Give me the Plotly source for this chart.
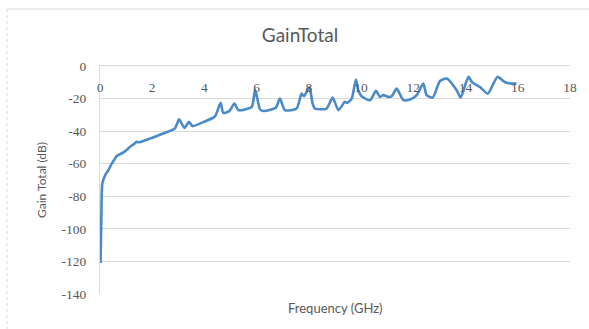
import plotly.graph_objects as go

# Total gain versus frequency
freq_ghz = [0.02, 0.05, 0.09, 0.2, 0.32, 0.45, 0.57, 0.64, 0.9, 1.2, 1.34, 1.4, 1.5,
            2.0, 2.5, 2.87, 3.03, 3.23, 3.41, 3.54, 4.02, 4.4, 4.62, 4.72, 4.95, 5.15,
            5.3, 5.81, 5.94, 6.13, 6.26, 6.5, 6.74, 6.89, 7.08, 7.53, 7.72, 7.81, 8.02,
            8.14, 8.23, 8.68, 8.91, 9.13, 9.38, 9.47, 9.64, 9.8, 9.89, 10.02, 10.34,
            10.57, 10.72, 10.85, 10.98, 11.04, 11.17, 11.36, 11.62, 11.87, 12.13, 12.38,
            12.51, 12.74, 13.02, 13.28, 13.66, 13.81, 14.11, 14.25, 14.55, 14.85, 15.22,
            15.5, 15.75, 15.95]
gain_db = [-121, -95, -72, -67, -64, -60, -57, -55.3, -53, -49, -47.5, -46.5, -46.8,
           -44, -41, -38.3, -32.8, -38, -34.3, -36.9, -34, -31, -22.6, -28.8, -27.7, -23,
           -27.1, -25.1, -14.5, -26.7, -27.6, -27, -25.5, -20, -27.1, -26.1, -16.9, -18.6, -13,
           -23, -26.1, -26.1, -19.4, -27.1, -22, -22.6, -20, -8.3, -14.9, -18.6, -21,
           -15.3, -19, -17.9, -18.6, -19, -18.6, -13.9, -21, -20.6, -17.9, -10.8,
           -17.9, -19.4, -9.2, -7.7, -14.9, -19.4, -6.7, -10, -12.9, -17, -6.7,
           -9.8, -10.8, -10.8]

x_ticks = [0, 2, 4, 6, 8, 10, 12, 14, 16, 18]
y_ticks = [0, -20, -40, -60, -80, -100, -120, -140]
y_tick_labels = ["0", "-20", "-40", "-60", "-80", "-100", "-120", "-140"]

TEXT = "#595959"
GRID = "#d9d9d9"
SANS = "Lato, Open Sans, sans-serif"
SERIF = "Liberation Serif"

fig = go.Figure(go.Scatter(
    x=freq_ghz, y=gain_db, mode="lines",
    line=dict(color="#4A8AC8", width=2.6, shape="spline", smoothing=0.6),
    hoverinfo="skip",
))

L, R, T, B = 100, 19, 66, 35
W, H = 589, 329
pw, ph = W - L - R, H - T - B

def px(xp):
    return (xp - L) / pw

def py(yp):
    return (H - B - yp) / ph

fig.update_layout(
    width=W, height=H,
    margin=dict(l=L, r=R, t=T, b=B),
    paper_bgcolor="white", plot_bgcolor="white",
    showlegend=False,
    title=dict(text="GainTotal", x=px(300), xref="paper", xanchor="center",
               y=1 - 35 / H, yanchor="middle",
               font=dict(family=SANS, size=19, color=TEXT)),
    xaxis=dict(
        range=[0, 18], side="top", tickvals=x_ticks,
        ticktext=[str(v) for v in x_ticks],
        ticklabelposition="inside", ticklabelstandoff=16,
        ticklabeloverflow="allow",
        showgrid=False, zeroline=False,
        showline=True, linecolor=GRID, linewidth=1,
        tickfont=dict(family=SERIF, size=13.5, color=TEXT),
    ),
    yaxis=dict(
        range=[-140, 0], tickvals=y_ticks, ticktext=y_tick_labels,
        ticklabelstandoff=10, ticklabeloverflow="allow",
        showgrid=True, gridcolor=GRID, gridwidth=1, zeroline=False,
        showline=True, linecolor=GRID, linewidth=1,
        tickfont=dict(family=SERIF, size=13.5, color=TEXT),
        title=dict(text="Gain Total (dB)", standoff=12,
                   font=dict(family=SANS, size=12, color=TEXT)),
    ),
    annotations=[dict(
        text="Frequency (GHz)", xref="paper", yref="paper",
        x=px(335), y=py(308), xanchor="center", yanchor="middle",
        showarrow=False, font=dict(family=SANS, size=13, color=TEXT),
    )],
    shapes=[
        dict(type="line", xref="paper", yref="paper", x0=px(7), x1=px(W + 2),
             y0=py(9), y1=py(9), line=dict(color=GRID, width=1)),
        dict(type="line", xref="paper", yref="paper", x0=px(7), x1=px(7),
             y0=py(9), y1=py(H + 2), line=dict(color=GRID, width=1, dash="dot")),
    ],
)

fig.write_html("out.html")
